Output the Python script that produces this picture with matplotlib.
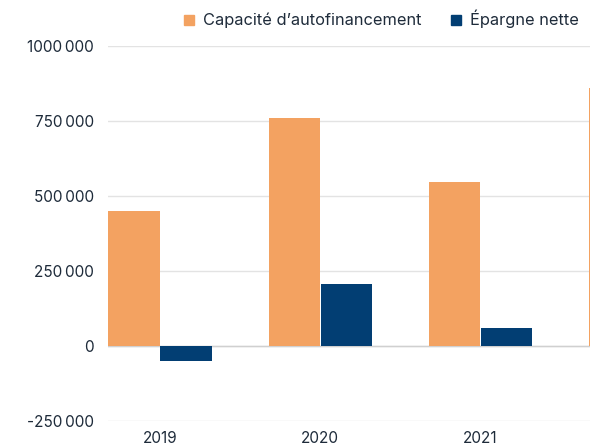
import numpy as np
import matplotlib.pyplot as plt
from matplotlib.lines import Line2D

plt.rcParams['font.family'] = ['Inter', 'DejaVu Sans']

annees = ['2019', '2020', '2021', '2022']
caf = [450000, 760000, 547000, 860000]       # capacité d'autofinancement
epargne = [-50000, 207000, 60000, 0]         # épargne nette (4e année hors cadre)
yticks = [-250000, 0, 250000, 500000, 750000, 1000000]
ylabels = ['-250\u2009000', '0', '250\u2009000', '500\u2009000', '750\u2009000', '1000\u2009000']

orange = '#f3a261'
bleu = '#023e73'
texte = '#1e2b3a'

fig = plt.figure(figsize=(5.9, 4.46), dpi=100)
ax = fig.add_axes([108/590, 25/446, 1 - 108/590, 375/446])

x = np.arange(len(annees))
w = 0.325
ax.bar(x - w/2, caf, width=w - 0.004, color=orange, zorder=3)
ax.bar(x + w/2, epargne, width=w - 0.004, color=bleu, zorder=3)

ax.set_yticks(yticks)
ax.set_yticklabels(ylabels)
ax.set_xticks(x)
ax.set_xticklabels(annees)
# limites après les ticks sinon set_xticks élargit la vue
ax.set_xlim(-0.325, 2.684)
ax.set_ylim(-250000, 1000000)
ax.grid(axis='y', color='#e3e3e3', linewidth=1, zorder=0)
ax.axhline(0, color='#d0d0d0', linewidth=1, zorder=2)
for s in ax.spines.values():
    s.set_visible(False)
ax.tick_params(length=0, colors=texte, labelsize=11)
ax.tick_params(axis='y', pad=10)
ax.tick_params(axis='x', pad=7)

handles = [Line2D([], [], marker='s', linestyle='', color=orange, markersize=7),
           Line2D([], [], marker='s', linestyle='', color=bleu, markersize=7)]
fig.legend(handles, ['Capacité d’autofinancement', 'Épargne nette'],
           loc='center left', bbox_to_anchor=(166/590, 1 - 19/446), ncol=2,
           frameon=False, fontsize=11.8, labelcolor=texte,
           handletextpad=0.35, columnspacing=1.6, handlelength=1.0)

fig.savefig('out.png', dpi=100)
